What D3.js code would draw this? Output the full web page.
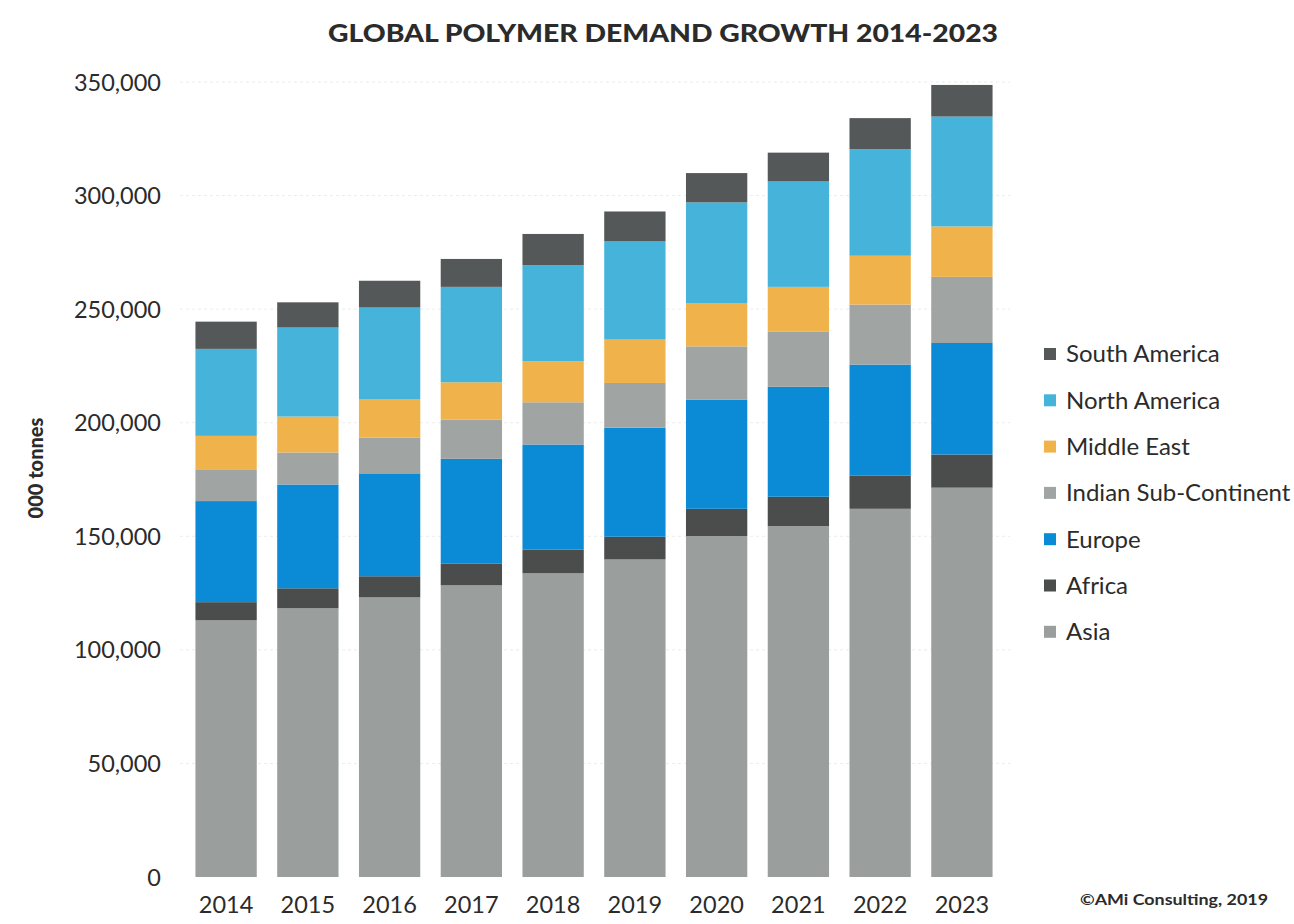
<!DOCTYPE html>
<html>
<head>
<meta charset="utf-8">
<script src="https://cdn.jsdelivr.net/npm/d3@7/dist/d3.min.js"></script>
<style>
  html, body { margin: 0; padding: 0; background: #ffffff; }
  svg { display: block; }
  text { font-family: Lato, "Open Sans", sans-serif; fill: #2b2b2b; }
</style>
</head>
<body>
<svg id="chart" width="1294" height="924"></svg>
<script>
// Global polymer demand by region, thousand tonnes
const years = ["2014", "2015", "2016", "2017", "2018", "2019", "2020", "2021", "2022", "2023"];
const regions = ["Asia", "Africa", "Europe", "Indian Sub-Continent", "Middle East", "North America", "South America"];

const asia         = [113000, 118300, 123100, 128400, 133700, 139800, 150100, 154500, 162100, 171400];
const africa       = [  8000,   8800,   9300,   9500,  10500,  10000,  12000,  12900,  14700,  14600];
const europe       = [ 44500,  45700,  45300,  46200,  46200,  48000,  48100,  48400,  48800,  49100];
const indianSub    = [ 13700,  14100,  15800,  17300,  18600,  19700,  23400,  24400,  26400,  29100];
const middleEast   = [ 15000,  15800,  16700,  16400,  18000,  19100,  19100,  19600,  21500,  22200];
const northAmerica = [ 38300,  39200,  40500,  42000,  42300,  43200,  44300,  46400,  46900,  48400];
const southAmerica = [ 12000,  11100,  11800,  12300,  13800,  13200,  12900,  12700,  13700,  13900];

const yTicks = [0, 50000, 100000, 150000, 200000, 250000, 300000, 350000];

const seriesValues = [asia, africa, europe, indianSub, middleEast, northAmerica, southAmerica];
const colors = {
  "Asia": "#9a9f9e",
  "Africa": "#4b4d4d",
  "Europe": "#0b8bd6",
  "Indian Sub-Continent": "#a0a4a3",
  "Middle East": "#f0b34c",
  "North America": "#46b4da",
  "South America": "#555858"
};

// table for the stack layout
const table = years.map((yr, i) => {
  const row = { year: yr };
  regions.forEach((r, k) => { row[r] = seriesValues[k][i]; });
  return row;
});
const stacked = d3.stack().keys(regions)(table);

const svg = d3.select("#chart");

const x = d3.scaleBand().domain(years).range([175, 1013]).paddingInner(0.25).paddingOuter(0.25);
const y = d3.scaleLinear().domain([0, 350000]).range([877, 82]);

// light grid
svg.append("g")
  .selectAll("line")
  .data(yTicks.filter(t => t > 0))
  .join("line")
  .attr("x1", 180).attr("x2", 1010)
  .attr("y1", d => y(d)).attr("y2", d => y(d))
  .attr("stroke", "#ececec")
  .attr("stroke-width", 1)
  .attr("stroke-dasharray", "3,3");

// stacked bars
svg.append("g")
  .selectAll("g")
  .data(stacked)
  .join("g")
  .attr("fill", d => colors[d.key])
  .selectAll("rect")
  .data(d => d)
  .join("rect")
  .attr("x", d => x(d.data.year))
  .attr("width", x.bandwidth())
  .attr("y", d => y(d[1]))
  .attr("height", d => y(d[0]) - y(d[1]));

// y axis
const yAxis = svg.append("g")
  .attr("transform", "translate(167,0)")
  .call(d3.axisLeft(y).tickValues(yTicks).tickSize(0).tickPadding(6).tickFormat(d3.format(",")));
yAxis.select(".domain").remove();
yAxis.selectAll("text").style("font-size", "23.5px").attr("fill", "#2b2b2b").attr("dy", "0.34em");

// x axis
const xAxis = svg.append("g")
  .attr("transform", "translate(0,891)")
  .call(d3.axisBottom(x).tickSize(0).tickPadding(0));
xAxis.select(".domain").remove();
xAxis.selectAll("text").style("font-size", "23.5px").attr("fill", "#2b2b2b").attr("dy", "0.95em");

// y axis title
svg.append("text")
  .attr("transform", "translate(43,468) rotate(-90)")
  .attr("text-anchor", "middle")
  .style("font-size", "20px")
  .style("font-weight", "900")
  .text("000 tonnes");

// title
svg.append("text")
  .attr("x", 663).attr("y", 42)
  .attr("text-anchor", "middle")
  .attr("textLength", 670)
  .attr("lengthAdjust", "spacingAndGlyphs")
  .style("font-size", "24px")
  .style("font-weight", "900")
  .text("GLOBAL POLYMER DEMAND GROWTH 2014-2023");

// legend, top entry first
const legendOrder = regions.slice().reverse();
const legend = svg.append("g")
  .selectAll("g")
  .data(legendOrder)
  .join("g")
  .attr("transform", (d, i) => `translate(1044,${354 + i * 46.3})`);
legend.append("rect")
  .attr("x", 0).attr("y", -6)
  .attr("width", 12).attr("height", 12)
  .attr("fill", d => colors[d]);
legend.append("text")
  .attr("x", 22).attr("y", 0)
  .attr("dy", "0.35em")
  .style("font-size", "24px")
  .text(d => d);

// credit
svg.append("text")
  .attr("x", 1080).attr("y", 905)
  .attr("textLength", 188)
  .attr("lengthAdjust", "spacingAndGlyphs")
  .style("font-size", "15px")
  .style("font-weight", "bold")
  .text("\u00A9AMi Consulting, 2019");
</script>
</body>
</html>
